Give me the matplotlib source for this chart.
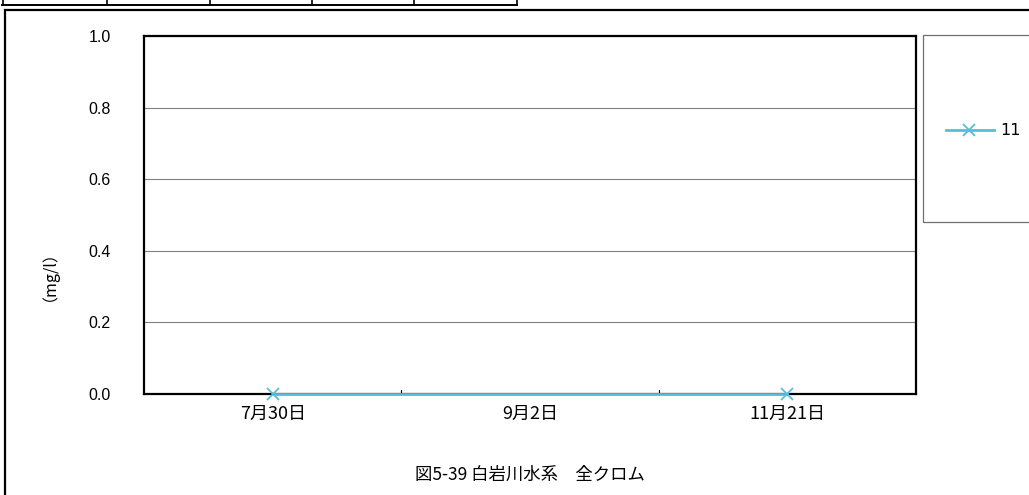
import matplotlib
matplotlib.use("Agg")
import matplotlib.pyplot as plt
from matplotlib.patches import Rectangle
from matplotlib.lines import Line2D

plt.rcParams['font.family'] = ['Noto Sans CJK JP', 'DejaVu Sans']

# data
dates = ["7月30日", "9月2日", "11月21日"]
values = [0.0, None, 0.0]
series_name = "11"
y_ticks = [0.0, 0.2, 0.4, 0.6, 0.8, 1.0]
title = "図5-39 白岩川水系　全クロム"
y_label = "（mg/l）"

W, H = 1029, 495
fig = plt.figure(figsize=(W / 100, H / 100), dpi=100)

def fx(px):
    return px / W

def fy(py):
    return 1 - py / H

# outer frame of the scanned page
fig.add_artist(Rectangle((fx(5), fy(600)), fx(1100), fy(10) - fy(600),
                         transform=fig.transFigure, fill=False, lw=1.6, ec="black"))
# table cells at the top edge
fig.add_artist(Line2D([fx(2), fx(517)], [fy(5), fy(5)], transform=fig.transFigure,
                      color="black", lw=1.4))
for x in [3, 107, 210, 312, 414, 517]:
    fig.add_artist(Line2D([fx(x), fx(x)], [fy(-2), fy(5)], transform=fig.transFigure,
                          color="black", lw=1.2))

ax = fig.add_axes([fx(144), fy(394), fx(916) - fx(144), fy(36) - fy(394)])

xs = list(range(len(dates)))
pts_x = [x for x, v in zip(xs, values) if v is not None]
pts_y = [v for v in values if v is not None]
ax.plot(pts_x, pts_y, color="#55bfd8", lw=2, marker="x", ms=9, mew=1.3,
        clip_on=False, zorder=5)

ax.set_xlim(-0.5, len(dates) - 0.5)
ax.set_ylim(0, 1.0)
ax.set_yticks(y_ticks)
ax.set_yticklabels([f"{t:.1f}" for t in y_ticks], fontsize=11.5,
                   family=['Liberation Sans', 'DejaVu Sans'])
ax.yaxis.grid(True, color="#808080", lw=0.8)
ax.set_axisbelow(True)
ax.tick_params(axis="y", length=0, pad=24)

ax.set_xticks(xs)
ax.set_xticklabels(dates, fontsize=13)
ax.tick_params(axis="x", length=0, pad=8)
# category separators
for b in [0.5, 1.5]:
    ax.plot([b, b], [0, 0.012], color="black", lw=0.8, clip_on=False)

for s in ax.spines.values():
    s.set_linewidth(1.6)
    s.set_color("black")

fig.text(fx(41), fy(268), y_label, rotation=90, ha="center", va="center", fontsize=11.5)
fig.text(fx(530), fy(475), title, ha="center", va="center", fontsize=12.5)

# legend box
fig.add_artist(Rectangle((fx(923), fy(222)), fx(120), fy(35) - fy(222),
                         transform=fig.transFigure, fill=False, lw=0.9, ec="#707070"))
fig.add_artist(Line2D([fx(946), fx(994)], [fy(130), fy(130)], transform=fig.transFigure,
                      color="#55bfd8", lw=2))
fig.add_artist(Line2D([fx(969)], [fy(130)], transform=fig.transFigure, color="#55bfd8",
                      marker="x", ms=8, mew=1.3, lw=0))
fig.text(fx(1000), fy(131), series_name, ha="left", va="center", fontsize=11.5,
         family=['DejaVu Sans'])

fig.savefig("out.png", dpi=100, facecolor="white")
